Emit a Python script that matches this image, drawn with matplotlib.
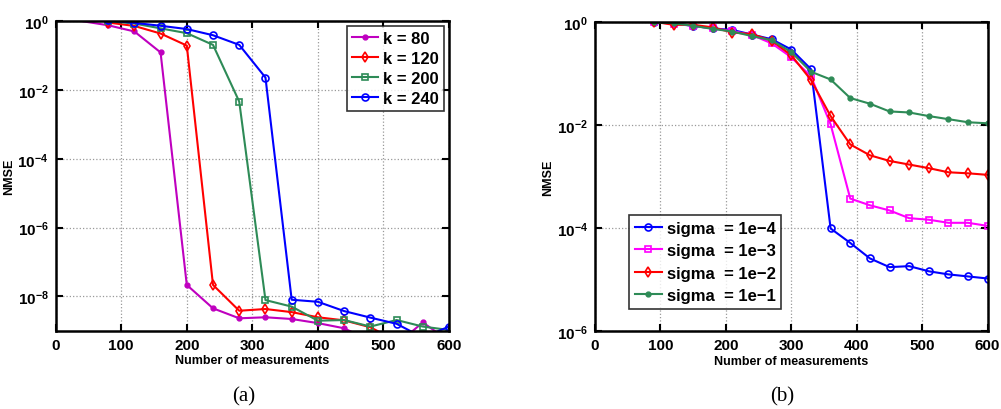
import numpy as np
import matplotlib
matplotlib.use('Agg')
import matplotlib.pyplot as plt
from matplotlib.ticker import NullLocator, FixedLocator

plt.rcParams['font.family'] = ['Liberation Sans', 'DejaVu Sans']
plt.rcParams['font.weight'] = 'bold'
plt.rcParams['mathtext.fontset'] = 'custom'
plt.rcParams['mathtext.bf'] = 'Liberation Sans:bold'
plt.rcParams['mathtext.rm'] = 'Liberation Sans:bold'
plt.rcParams['mathtext.default'] = 'bf'

# (a) NMSE vs measurements for several sparsity levels k (log10 values)
x_k80 = [40, 80, 120, 160, 200, 240, 280, 320, 360, 400, 440, 480, 520, 560, 600]
k80 = [0.0, -0.12, -0.30, -0.91, -7.67, -8.35, -8.64, -8.61, -8.66, -8.78, -8.93, -9.3, -9.4, -8.76, -9.3]
x_a = [80, 120, 160, 200, 240, 280, 320, 360, 400, 440, 480, 520, 560, 600]
k120 = [-0.04, -0.14, -0.36, -0.71, -7.67, -8.42, -8.37, -8.46, -8.61, -8.70, -8.90, -9.3, -9.4, -9.5]
k200 = [0.0, -0.07, -0.21, -0.35, -0.69, -2.34, -8.11, -8.30, -8.71, -8.69, -8.88, -8.69, -8.88, -8.98]
k240 = [0.02, -0.05, -0.135, -0.23, -0.41, -0.69, -1.64, -8.10, -8.16, -8.43, -8.62, -8.80, -9.2, -8.88]

# (b) NMSE vs measurements for several noise levels sigma (log10 values)
x_b = [60, 90, 120, 150, 180, 210, 240, 270, 300, 330, 360, 390, 420, 450, 480, 510, 540, 570, 600]
s1e4 = [0.05, -0.01, -0.03, -0.08, -0.13, -0.16, -0.25, -0.34, -0.54, -0.92, -4.01, -4.29, -4.59, -4.76, -4.74, -4.84, -4.90, -4.94, -4.98]
s1e3 = [0.05, -0.01, -0.04, -0.08, -0.13, -0.18, -0.26, -0.42, -0.69, -1.06, -1.99, -3.43, -3.56, -3.66, -3.81, -3.84, -3.90, -3.90, -3.96]
s1e2 = [0.05, 0.0, -0.06, -0.06, -0.11, -0.21, -0.24, -0.37, -0.65, -1.13, -1.83, -2.38, -2.59, -2.70, -2.77, -2.84, -2.92, -2.94, -2.97]
s1e1 = [0.05, -0.01, -0.03, -0.08, -0.14, -0.19, -0.28, -0.36, -0.59, -0.97, -1.12, -1.48, -1.59, -1.74, -1.76, -1.83, -1.89, -1.95, -1.97]

fig = plt.figure(figsize=(10.01, 4.10), dpi=100)
ax1 = fig.add_axes([0.0556, 0.191, 0.393, 0.755])
ax2 = fig.add_axes([0.5944, 0.190, 0.3923, 0.7546])

def style(ax, ymin, yticks):
    ax.set_yscale('log')
    ax.set_xlim(0, 600)
    ax.set_ylim(ymin, 1)
    ax.yaxis.set_major_locator(FixedLocator(yticks))
    ax.yaxis.set_minor_locator(NullLocator())
    ax.set_xticks(range(0, 601, 100))
    ax.grid(True, linestyle=':', color='#999999', linewidth=0.9)
    ax.tick_params(direction='in', top=True, right=True, labelsize=11, width=1.5, length=5, pad=5)
    for s in ax.spines.values():
        s.set_linewidth(1.8)
    ax.set_xlabel('Number of measurements', fontsize=9, fontweight='bold', labelpad=2)
    ax.set_ylabel('NMSE', fontsize=9, fontweight='bold', labelpad=2)
    for lab in ax.get_xticklabels() + ax.get_yticklabels():
        lab.set_fontweight('bold')

lw = 1.5
skip_first = lambda n: list(range(1, n))

ax1.plot(x_k80, 10 ** np.array(k80), color='#BF00BF', marker='.', markersize=7, lw=lw,
         markevery=skip_first(len(x_k80)), label='k = 80')
ax1.plot(x_a, 10 ** np.array(k120), color='#FF0000', marker='d', markersize=5, mfc='none', mew=1.2, lw=lw, label='k = 120')
ax1.plot(x_a, 10 ** np.array(k200), color='#2E8B57', marker='s', markersize=4.5, mfc='none', mew=1.2, lw=lw, label='k = 200')
ax1.plot(x_a, 10 ** np.array(k240), color='#0000FF', marker='o', markersize=5, mfc='none', mew=1.2, lw=lw, label='k = 240')
style(ax1, 1e-9, [1e-8, 1e-6, 1e-4, 1e-2, 1])
leg1 = ax1.legend(loc='upper right', fontsize=12, frameon=True, fancybox=False, edgecolor='black',
                  handlelength=1.6, handletextpad=0.3, borderpad=0.3, labelspacing=0.3, borderaxespad=0.3)
leg1.get_frame().set_linewidth(1.2)
for t in leg1.get_texts():
    t.set_fontweight('bold')

mb = skip_first(len(x_b))
ax2.plot(x_b, 10 ** np.array(s1e4), color='#0000FF', marker='o', markersize=5, mfc='none', mew=1.2, lw=lw,
         markevery=mb, label='sigma  = 1e\u22124')
ax2.plot(x_b, 10 ** np.array(s1e3), color='#FF00FF', marker='s', markersize=4.5, mfc='none', mew=1.2, lw=lw,
         markevery=mb, label='sigma  = 1e\u22123')
ax2.plot(x_b, 10 ** np.array(s1e2), color='#FF0000', marker='d', markersize=5, mfc='none', mew=1.2, lw=lw,
         markevery=mb, label='sigma  = 1e\u22122')
ax2.plot(x_b, 10 ** np.array(s1e1), color='#2E8B57', marker='.', markersize=7, lw=lw,
         markevery=mb, label='sigma  = 1e\u22121')
style(ax2, 1e-6, [1e-6, 1e-4, 1e-2, 1])
leg2 = ax2.legend(loc='lower left', bbox_to_anchor=(0.087, 0.071), fontsize=12, frameon=True, fancybox=False,
                  edgecolor='black', handlelength=1.6, handletextpad=0.3, borderpad=0.35, labelspacing=0.45,
                  borderaxespad=0)
leg2.get_frame().set_linewidth(1.2)
for t in leg2.get_texts():
    t.set_fontweight('bold')

fig.text(0.243, 0.032, '(a)', fontsize=15, family='Liberation Serif', fontweight='normal', ha='center', va='center')
fig.text(0.781, 0.032, '(b)', fontsize=15, family='Liberation Serif', fontweight='normal', ha='center', va='center')

fig.savefig('out.png', dpi=100)
